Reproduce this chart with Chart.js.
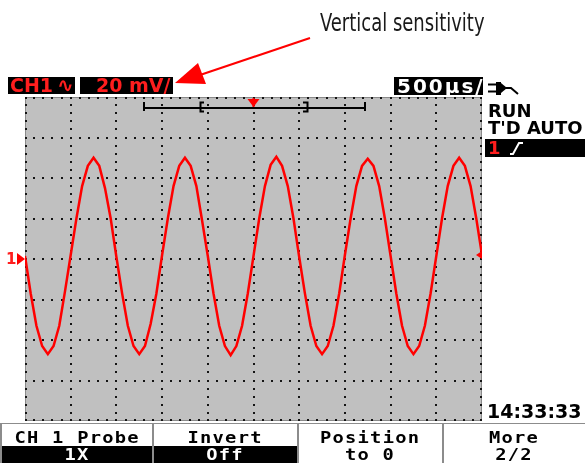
<!DOCTYPE html>
<html>
<head>
<meta charset="utf-8">
<script src="https://cdn.jsdelivr.net/npm/chart.js@4.4.1/dist/chart.umd.min.js"></script>
<style>
  body { margin: 0; background: #fff; width: 585px; height: 463px; overflow: hidden; position: relative; font-family: "DejaVu Sans", sans-serif; }
  #scope { position: absolute; left: 0; top: 0; }
  svg { position: absolute; left: 0; top: 0; }
  .abs { position: absolute; white-space: nowrap; }
  .blk { background: #000; }
  .b { font-weight: bold; }
  .red { color: #ff1e1e; }
  .menu { position: absolute; top: 424px; height: 39px; background: #fff; }
  .menu .lab { position: absolute; left: 0; right: 0; text-align: center; font-family: "DejaVu Sans Mono", monospace; font-weight: bold; font-size: 15px; line-height: 15px; }
  .menu .lab span { display: inline-block; transform: scaleX(1.25); letter-spacing: 1px; }
  .menu .low { position: absolute; left: 0; right: 0; top: 22px; bottom: 0; background: #000; }
</style>
</head>
<body>
<canvas id="scope" width="585" height="463"></canvas>

<svg width="585" height="463">
  <!-- annotation arrow -->
  <line x1="310" y1="38" x2="200" y2="75" stroke="#ff0000" stroke-width="2"/>
  <polygon points="175,83 198,63 206,84" fill="#ff0000"/>
  <!-- time bar -->
  <line x1="143" y1="108" x2="366" y2="108" stroke="#000" stroke-width="2"/>
  <line x1="144" y1="102" x2="144" y2="111" stroke="#000" stroke-width="2"/>
  <line x1="365" y1="102" x2="365" y2="111" stroke="#000" stroke-width="2"/>
  <path d="M204,102.5 H200.5 V111.5 H204" fill="none" stroke="#000" stroke-width="2"/>
  <path d="M303,102.5 H307.5 V111.5 H303" fill="none" stroke="#000" stroke-width="2"/>
  <!-- trigger icon -->
  <line x1="488" y1="84.5" x2="496" y2="84.5" stroke="#000" stroke-width="2"/>
  <line x1="488" y1="91.5" x2="496" y2="91.5" stroke="#000" stroke-width="2"/>
  <rect x="496" y="82" width="5" height="13" fill="#000"/>
  <polygon points="501,83 507,88 501,93" fill="#000"/>
  <polyline points="506,88 511,88 518,94" fill="none" stroke="#000" stroke-width="2"/>
  <!-- right black bar with slope -->
  <rect x="485" y="139" width="100" height="18" fill="#000"/>
  <polyline points="510,154 513,154 519,143 523,143" fill="none" stroke="#fff" stroke-width="2"/>
  <!-- menu backing -->
  <rect x="0" y="423" width="585" height="40" fill="#8c8c8c"/>
</svg>

<div class="abs" style="left:320px;top:10px;font-family:'Liberation Sans Narrow','DejaVu Sans Condensed',sans-serif;font-size:25px;line-height:25px;color:#1a1a1a;transform:scaleX(0.8);transform-origin:left top;">Vertical sensitivity</div>

<div class="abs blk b red" style="left:8px;top:77px;width:67px;height:17px;font-size:19px;line-height:17px;"><span style="margin-left:2px">CH1</span><span style="font-size:20px;margin-left:4px">∿</span></div>
<div class="abs blk b red" style="left:80px;top:77px;width:93px;height:17px;font-size:19px;line-height:17px;"><span style="margin-left:16px">20 mV/</span></div>
<div class="abs blk b" style="left:394px;top:77px;width:89px;height:18px;font-size:20px;line-height:18px;color:#fff;letter-spacing:2px;"><span style="margin-left:3px">500µs/</span></div>

<div class="abs b" style="left:488px;top:102px;font-size:18px;line-height:18px;">RUN</div>
<div class="abs b" style="left:488px;top:119px;font-size:18px;line-height:18px;">T'D AUTO</div>
<div class="abs b red" style="left:488px;top:139px;font-size:18px;line-height:18px;">1</div>
<div class="abs b" style="left:487px;top:402px;font-size:19px;line-height:19px;">14:33:33</div>
<div class="abs b red" style="left:6px;top:252px;font-size:15px;line-height:15px;">1</div>

<div class="menu" style="left:2px;width:150px;">
  <div class="lab" style="top:7px"><span>CH 1 Probe</span></div>
  <div class="low"><div class="lab" style="top:2px;color:#fff"><span>1X</span></div></div>
</div>
<div class="menu" style="left:154px;width:143px;">
  <div class="lab" style="top:7px"><span>Invert</span></div>
  <div class="low"><div class="lab" style="top:2px;color:#fff"><span>Off</span></div></div>
</div>
<div class="menu" style="left:299px;width:143px;">
  <div class="lab" style="top:7px"><span>Position</span></div>
  <div class="lab" style="top:24px"><span>to 0</span></div>
</div>
<div class="menu" style="left:444px;width:141px;">
  <div class="lab" style="top:7px"><span>More</span></div>
  <div class="lab" style="top:24px"><span>2/2</span></div>
</div>

<script>
// sample times (ms) and channel 1 voltage (mV)
const timeMs = [
  0, 0.0625, 0.125, 0.1875, 0.25, 0.3125, 0.375, 0.4375, 0.5, 0.5625, 0.625, 0.6875, 0.75, 0.8125, 0.875, 0.9375,
  1, 1.0625, 1.125, 1.1875, 1.25, 1.3125, 1.375, 1.4375, 1.5, 1.5625, 1.625, 1.6875, 1.75, 1.8125, 1.875, 1.9375,
  2, 2.0625, 2.125, 2.1875, 2.25, 2.3125, 2.375, 2.4375, 2.5, 2.5625, 2.625, 2.6875, 2.75, 2.8125, 2.875, 2.9375,
  3, 3.0625, 3.125, 3.1875, 3.25, 3.3125, 3.375, 3.4375, 3.5, 3.5625, 3.625, 3.6875, 3.75, 3.8125, 3.875, 3.9375,
  4, 4.0625, 4.125, 4.1875, 4.25, 4.3125, 4.375, 4.4375, 4.5, 4.5625, 4.625, 4.6875, 4.75, 4.8125, 4.875, 4.9375,
  5
];
const ch1mV = [
  1.5, -17, -33, -43, -47, -43, -33, -16, 2, 20, 36, 46, 50, 46, 35, 20,
  1, -17, -33, -43, -47, -43, -32, -17, 2, 20, 36, 46, 50, 46, 36, 19,
  1.5, -17, -33, -43, -47.5, -43, -33, -17, 1.5, 20, 36, 46.5, 50.5, 46, 36, 20,
  1, -17, -33, -43, -47, -43, -33, -17, 2, 20, 36, 46, 49.5, 46, 36, 20,
  1.5, -17, -33, -43, -47, -43, -33, -17, 1.5, 20, 36, 46, 50, 46, 36, 20,
  2
];

// screen divisions: 500 us/div, 20 mV/div
const xDivMs = [0, 0.5, 1, 1.5, 2, 2.5, 3, 3.5, 4, 4.5, 5];
const yDivMv = [-80, -60, -40, -20, 0, 20, 40, 60, 80];
const groundMv = 0;
const triggerMv = 2;
const triggerTimeMs = 2.5;

const scopeScreen = {
  id: 'scopeScreen',
  beforeDatasetsDraw(chart) {
    const { ctx, chartArea: a, scales: { x, y } } = chart;
    ctx.save();
    ctx.fillStyle = '#c0c0c0';
    ctx.fillRect(a.left, a.top, a.right - a.left, a.bottom - a.top);
    ctx.strokeStyle = '#8a8a8a';
    ctx.lineWidth = 1;
    ctx.strokeRect(a.left + 0.5, a.top + 0.5, a.right - a.left - 1, a.bottom - a.top - 1);

    ctx.fillStyle = '#141414';
    const yMin = yDivMv[0], yStep = (yDivMv[1] - yDivMv[0]) / 5;
    const xMin = xDivMs[0], xStep = (xDivMs[1] - xDivMs[0]) / 5;
    // dotted vertical lines
    xDivMs.forEach(t => {
      const px = Math.round(x.getPixelForValue(t));
      for (let k = 0; k <= (yDivMv.length - 1) * 5; k++) {
        const py = Math.round(y.getPixelForValue(yMin + k * yStep));
        ctx.fillRect(Math.min(Math.max(px - 1, a.left), a.right - 2), Math.min(Math.max(py - 1, a.top), a.bottom - 2), 2, 2);
      }
    });
    // dotted horizontal lines
    yDivMv.forEach(v => {
      const py = Math.round(y.getPixelForValue(v));
      for (let k = 0; k <= (xDivMs.length - 1) * 5; k++) {
        const px = Math.round(x.getPixelForValue(xMin + k * xStep));
        ctx.fillRect(Math.min(Math.max(px - 1, a.left), a.right - 2), Math.min(Math.max(py - 1, a.top), a.bottom - 2), 2, 2);
      }
    });
    ctx.restore();
  },
  afterDatasetsDraw(chart) {
    const { ctx, chartArea: a, scales: { x, y } } = chart;
    ctx.save();
    ctx.fillStyle = '#ff0000';
    // ground marker
    const gy = y.getPixelForValue(groundMv);
    ctx.beginPath();
    ctx.moveTo(a.left - 8, gy - 6);
    ctx.lineTo(a.left, gy);
    ctx.lineTo(a.left - 8, gy + 6);
    ctx.fill();
    // trigger level marker
    const ty = y.getPixelForValue(triggerMv);
    ctx.beginPath();
    ctx.moveTo(a.right - 6, ty);
    ctx.lineTo(a.right, ty - 4);
    ctx.lineTo(a.right, ty + 4);
    ctx.fill();
    // trigger time marker
    const tx = x.getPixelForValue(triggerTimeMs);
    ctx.beginPath();
    ctx.moveTo(tx - 6, a.top + 2);
    ctx.lineTo(tx + 6, a.top + 2);
    ctx.lineTo(tx, a.top + 10);
    ctx.fill();
    ctx.fillRect(tx - 1, a.top + 1, 2, 11);
    ctx.restore();
  }
};

new Chart(document.getElementById('scope'), {
  type: 'line',
  data: {
    datasets: [{
      label: 'CH1',
      data: timeMs.map((t, i) => ({ x: t, y: ch1mV[i] })),
      borderColor: '#ff0000',
      borderWidth: 2.5,
      pointRadius: 0,
      tension: 0
    }]
  },
  options: {
    responsive: false,
    animation: false,
    layout: { padding: { left: 25, right: 103, top: 97, bottom: 42 } },
    plugins: { legend: { display: false }, tooltip: { enabled: false } },
    scales: {
      x: { type: 'linear', min: 0, max: 5, display: false },
      y: { min: -80, max: 80, display: false }
    }
  },
  plugins: [scopeScreen]
});
</script>
</body>
</html>
